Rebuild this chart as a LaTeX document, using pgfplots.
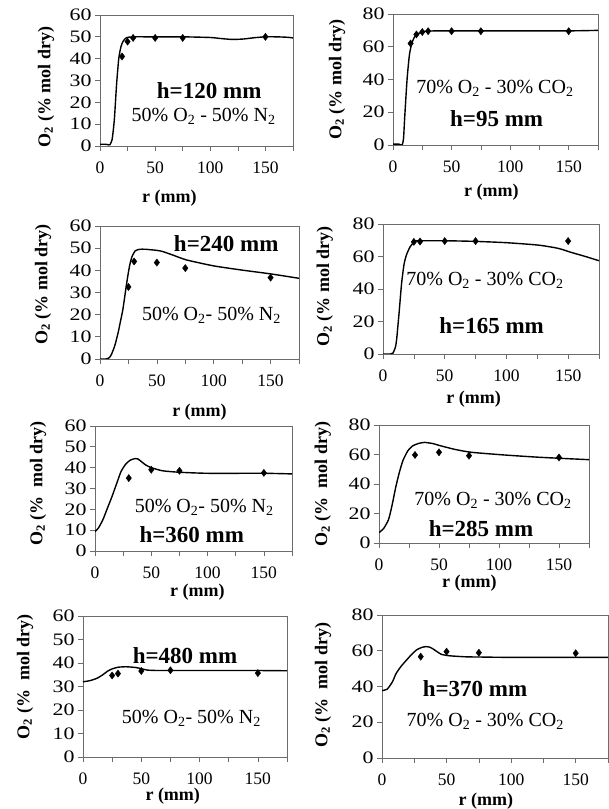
\documentclass[border=0pt]{standalone}
\usepackage{fontspec}
\setmainfont{Liberation Serif}
\usepackage{graphicx}
\usepackage{pgfplots}
\pgfplotsset{compat=1.18}
\tikzset{
  hl/.style={font=\bfseries\fontsize{23}{23}\selectfont},
  gl/.style={font=\fontsize{20}{20}\selectfont},
}
\pgfplotsset{
  panel/.style={
    scale only axis, xmin=0, xmax=175, ymin=0,
    xtick={0,25,...,175}, xticklabels={0,,50,,100,,150,},
    tick pos=left, tick align=outside, major tick length=5pt,
    axis line style={draw=gray!85!black, line width=0.7pt},
    tick style={draw=gray!85!black, line width=0.7pt},
    /pgf/number format/assume math mode=true,
    tick label style={font=\fontsize{17.5}{18}\selectfont},
    xticklabel style={yshift=-7pt},
    yticklabel={\scalebox{1.25}[1]{\pgfmathprintnumber{\tick}}},
    xlabel={\textbf{r (mm)}}, ylabel={\textbf{O\textsubscript{2} (\% mol dry)}},
    label style={font=\fontsize{18}{18}\selectfont},
    x label style={anchor=center}, y label style={anchor=center},
  },
  xl/.style 2 args={x label style={at={(axis description cs:#1,#2)}}},
  yl/.style 2 args={y label style={at={(axis description cs:#1,#2)}}},
  mod/.style={black, line width=1.4pt, smooth, tension=0.35, no markers},
  exp/.style={only marks, mark=diamond*, mark size=3.6pt, black},
}
\begin{document}
\begin{tikzpicture}
\useasboundingbox (0pt,0pt) rectangle (609pt,809pt);

% P1 h=120
\begin{axis}[panel, at={(100pt,663pt)}, anchor=south west, width=193pt, height=131pt,
  ymax=60, ytick={0,10,...,60}, xl={0.36}{-0.397}, yl={-0.280}{0.45}]
\addplot[mod] coordinates {(0,0.8)(5,0.8)(8,0.5)(9,0.6)(11,3)(13,12)(15,28)(17,40)(19,45.5)(21,48)(24,49.6)(30,50)(50,50)(75,50)(100,49.7)(110,49.2)(120,48.8)(130,49)(140,49.6)(150,50)(160,50)(170,49.8)(175,49.5)};
\addplot[exp] coordinates {(20,41)(25,47.8)(30,49.5)(50,49.5)(75,49.5)(150,50)};
\node[hl] at (axis cs:99,25.3) {h=120 mm};
\node[gl] at (axis cs:94,13.4) {50\% O\textsubscript{2} - 50\% N\textsubscript{2}};
\end{axis}

% P2 h=95
\begin{axis}[panel, at={(393pt,664pt)}, anchor=south west, width=205pt, height=131pt,
  ymax=80, ytick={0,20,...,80}, xl={0.48}{-0.359}, yl={-0.273}{0.50}]
\addplot[mod] coordinates {(0,0.5)(5,0.5)(7,0)(8,0.3)(9,4)(10,17)(12,40)(14,55)(16,62)(18,65.5)(20,67.5)(25,69)(30,69.6)(50,69.7)(100,69.7)(150,69.7)(175,70)};
\addplot[exp] coordinates {(15,62)(20,67.5)(25,69)(30,69.5)(50,69.5)(75,69.5)(150,69.5)};
\node[gl] at (axis cs:87,34.6) {70\% O\textsubscript{2} - 30\% CO\textsubscript{2}};
\node[hl] at (axis cs:88.5,16.3) {h=95 mm};
\end{axis}

% P3 h=240
\begin{axis}[panel, at={(100pt,450pt)}, anchor=south west, width=199pt, height=133pt,
  ymax=60, ytick={0,10,...,60}, xl={0.50}{-0.398}, yl={-0.286}{0.56}]
\addplot[mod] coordinates {(0,0)(5,0)(8,0.5)(10,2)(13,6)(16,12)(18,17)(20,22)(22,29)(24,36)(26,42)(28,46)(31,48.8)(35,49.5)(40,49.5)(50,49)(55,48.5)(64,46.9)(76,44.7)(100,42)(125,40.1)(150,38.4)(175,36.4)};
\addplot[exp] coordinates {(25,32.5)(30,44)(50,43.5)(75,41)(150,36.7)};
\node[hl] at (axis cs:111,52.2) {h=240 mm};
\node[gl] at (axis cs:98,19.8) {50\% O\textsubscript{2}- 50\% N\textsubscript{2}};
\end{axis}

% P4 h=165
\begin{axis}[panel, at={(383pt,455pt)}, anchor=south west, width=216pt, height=130pt,
  ymax=80, ytick={0,20,...,80}, xl={0.42}{-0.346}, yl={-0.269}{0.52}]
\addplot[mod] coordinates {(0,0)(6,0)(8,0.5)(10,4)(11,8.6)(13,25)(15,43)(17,55)(19,61)(22,66)(26,69.5)(30,69.7)(50,69.7)(75,69.3)(100,68.5)(126,67)(142,65)(153,62.4)(164,60)(175,57.4)};
\addplot[exp] coordinates {(25,69)(30,69.2)(50,69.5)(75,69.5)(150,69.5)};
\node[gl] at (axis cs:82.6,45.5) {70\% O\textsubscript{2} - 30\% CO\textsubscript{2}};
\node[hl] at (axis cs:88,17.2) {h=165 mm};
\end{axis}

% P5 h=360
\begin{axis}[panel, at={(95pt,258pt)}, anchor=south west, width=197pt, height=125pt,
  ymax=60, ytick={0,10,...,60}, xl={0.52}{-0.33}, yl={-0.289}{0.54},
  ylabel={\textbf{O\textsubscript{2} (\%\ \ mol dry)}}]
\addplot[mod] coordinates {(0,9.3)(3,11)(7,15)(11,20.5)(15,26)(19,32)(23,38)(27,41.5)(31,43.5)(35,44.3)(38,44.2)(41,43)(45,41.3)(50,40)(60,38.5)(75,37.8)(100,37.3)(150,37.3)(175,37)};
\addplot[exp] coordinates {(30,35)(50,39)(75,38.5)(150,37.5)};
\node[gl] at (axis cs:97,21) {50\% O\textsubscript{2}- 50\% N\textsubscript{2}};
\node[hl] at (axis cs:86,7.7) {h=360 mm};
\end{axis}

% P6 h=285
\begin{axis}[panel, at={(379pt,266pt)}, anchor=south west, width=210pt, height=118pt,
  ymax=80, ytick={0,20,...,80}, xl={0.43}{-0.34}, yl={-0.267}{0.50},
  ylabel={\textbf{O\textsubscript{2} (\%\ \ mol dry)}}]
\addplot[mod] coordinates {(0,7)(4,10)(8,16)(11,26)(14,38)(17,48)(20,56)(24,62.5)(28,65.8)(33,67.5)(38,68.2)(45,67.4)(50,66.2)(63,63.5)(77,61.5)(104,59.7)(132,58.2)(159,57.1)(175,56.5)};
\addplot[exp] coordinates {(30,59.7)(50,61.5)(75,59.2)(150,58)};
\node[gl] at (axis cs:95,29.2) {70\% O\textsubscript{2} - 30\% CO\textsubscript{2}};
\node[hl] at (axis cs:85,10) {h=285 mm};
\end{axis}

% P7 h=480
\begin{axis}[panel, at={(83pt,52pt)}, anchor=south west, width=204pt, height=141pt,
  ymax=60, ytick={0,10,...,60}, xl={0.44}{-0.275}, yl={-0.284}{0.57},
  ylabel={\textbf{O\textsubscript{2} (\%\ \ mol dry)}}]
\addplot[mod] coordinates {(0,32)(6,32.5)(12,33.5)(17,35)(21,36.5)(25,37.5)(30,38.2)(37,38.4)(45,38.1)(50,37.6)(55,37)(65,36.8)(100,36.8)(150,36.8)(175,36.7)};
\addplot[exp] coordinates {(25,34.7)(30,35.5)(50,36.6)(75,36.9)(150,35.7)};
\node[hl] at (axis cs:87.5,43) {h=480 mm};
\node[gl] at (axis cs:93,16.5) {50\% O\textsubscript{2}- 50\% N\textsubscript{2}};
\end{axis}

% P8 h=370
\begin{axis}[panel, at={(382pt,51pt)}, anchor=south west, width=226pt, height=143pt,
  ymax=80, ytick={0,20,...,80}, xl={0.46}{-0.30}, yl={-0.261}{0.51},
  ylabel={\textbf{O\textsubscript{2} (\%\ \ mol dry)}}]
\addplot[mod] coordinates {(0,37.7)(4,38.5)(8,42.5)(11,47.4)(15,51.5)(19,54.8)(23,58)(27,60.6)(31,61.9)(34,62.3)(37,62)(40,60.8)(43,59.3)(46,58)(52,57.2)(65,56.6)(75,56.5)(100,56.3)(175,56.3)};
\addplot[exp] coordinates {(30,56.7)(50,59.5)(75,58.9)(150,58.6)};
\node[hl] at (axis cs:72,39) {h=370 mm};
\node[gl] at (axis cs:80,20.3) {70\% O\textsubscript{2} - 30\% CO\textsubscript{2}};
\end{axis}
\end{tikzpicture}
\end{document}
